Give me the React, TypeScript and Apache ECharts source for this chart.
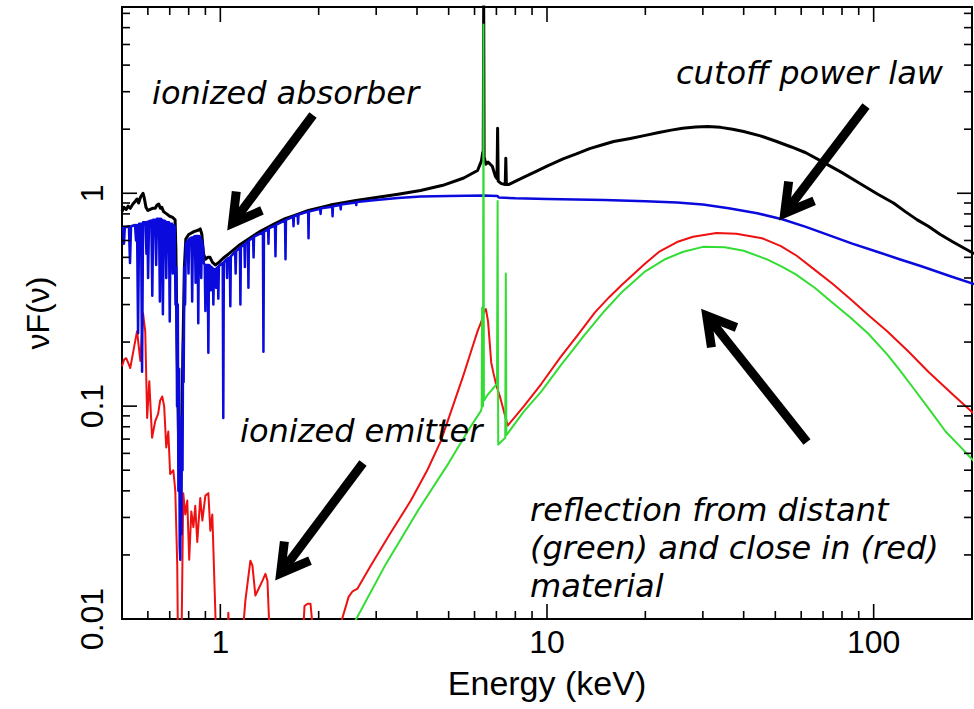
import React, { useEffect, useRef } from "react";
import * as echarts from "echarts";

// ---- axis ranges and ticks ----
const X_MIN = 0.5;
const X_MAX = 200;
const Y_MIN = 0.01;
const Y_MAX = 7.5;

const xTickValues = [1, 10, 100];
const xTickLabels = ["1", "10", "100"];
const xMinorTicks = [0.6, 0.7, 0.8, 0.9, 2, 3, 4, 5, 6, 7, 8, 9, 20, 30, 40, 50, 60, 70, 80, 90];
const yTickValues = [0.01, 0.1, 1];
const yTickLabels = ["0.01", "0.1", "1"];
const yMinorTicks = [
  0.02, 0.03, 0.04, 0.05, 0.06, 0.07, 0.08, 0.09,
  0.2, 0.3, 0.4, 0.5, 0.6, 0.7, 0.8, 0.9,
  2, 3, 4, 5, 6, 7,
];

// ---- spectral components: [energy keV, nuF(nu)] ----
const totalModel: [number, number][] = [
  [0.5, 0.82], [0.507, 0.86], [0.515, 0.84], [0.522, 0.87], [0.53, 0.85], [0.54, 0.89],
  [0.55, 0.92], [0.556, 0.94], [0.562, 0.9], [0.57, 0.96], [0.58, 1.0], [0.585, 0.95],
  [0.592, 0.86], [0.6, 0.83], [0.61, 0.84], [0.62, 0.85], [0.632, 0.85], [0.64, 0.88],
  [0.648, 0.89], [0.655, 0.85], [0.662, 0.86], [0.67, 0.82], [0.685, 0.8], [0.7, 0.78],
  [0.715, 0.77], [0.727, 0.75], [0.731, 0.55], [0.737, 0.2], [0.745, 0.07], [0.752, 0.05],
  [0.76, 0.06], [0.768, 0.18], [0.776, 0.45], [0.784, 0.61], [0.8, 0.64], [0.83, 0.66],
  [0.855, 0.67], [0.868, 0.68], [0.878, 0.64], [0.888, 0.52], [0.9, 0.49], [0.915, 0.5],
  [0.93, 0.5], [0.945, 0.475], [0.965, 0.46], [0.985, 0.47], [1.02, 0.495], [1.07, 0.525],
  [1.15, 0.575], [1.22, 0.61], [1.33, 0.665], [1.47, 0.72], [1.58, 0.76], [1.68, 0.785],
  [1.86, 0.83], [2.17, 0.88], [2.6, 0.925], [3.0, 0.955], [3.5, 0.99], [4.1, 1.03],
  [4.8, 1.09], [5.56, 1.18], [6.13, 1.28], [6.3, 1.42], [6.36, 1.56], [6.38, 1.5],
  [6.4, 7.8], [6.42, 1.48], [6.5, 1.37], [6.6, 1.4], [6.8, 1.34], [6.95, 1.2],
  [7.03, 1.17], [7.06, 2.02], [7.09, 1.14], [7.25, 1.11], [7.45, 1.1], [7.48, 1.46],
  [7.51, 1.1], [7.65, 1.1], [8.5, 1.19], [9.3, 1.27], [10, 1.34], [11.2, 1.45],
  [12.3, 1.53], [13.5, 1.62], [14.8, 1.69], [16, 1.75], [18, 1.81], [20, 1.87], [22, 1.93],
  [24, 1.98], [26, 2.02], [28.5, 2.05], [31, 2.06], [34, 2.04], [37, 2.0], [40, 1.95],
  [45, 1.86], [50, 1.76], [56, 1.65], [62, 1.55], [70, 1.4], [80, 1.25], [90, 1.12],
  [103, 0.99], [115, 0.9], [125, 0.82], [136, 0.75], [147, 0.7], [160, 0.64],
  [175, 0.59], [190, 0.55], [203, 0.52],
];

const absorbedPowerLaw: [number, number][] = [
  [0.5, 0.68], [0.504, 0.685], [0.507, 0.58], [0.51, 0.69],
  [0.525, 0.7], [0.529, 0.47], [0.533, 0.7],
  [0.548, 0.71], [0.552, 0.6], [0.556, 0.71], [0.56, 0.22], [0.564, 0.72],
  [0.572, 0.72], [0.576, 0.145], [0.58, 0.73],
  [0.59, 0.73], [0.594, 0.52], [0.598, 0.735], [0.601, 0.4], [0.605, 0.74],
  [0.615, 0.745], [0.619, 0.33], [0.623, 0.75],
  [0.632, 0.75], [0.636, 0.46], [0.64, 0.76],
  [0.649, 0.76], [0.653, 0.31], [0.657, 0.76],
  [0.663, 0.75], [0.667, 0.27], [0.671, 0.745],
  [0.679, 0.74], [0.683, 0.4], [0.687, 0.73],
  [0.696, 0.73], [0.7, 0.25], [0.704, 0.72],
  [0.711, 0.72], [0.715, 0.42], [0.719, 0.71],
  [0.725, 0.7], [0.729, 0.3], [0.733, 0.45], [0.737, 0.1], [0.741, 0.3], [0.744, 0.04],
  [0.748, 0.15], [0.751, 0.022], [0.754, 0.019], [0.757, 0.06], [0.76, 0.025],
  [0.763, 0.09], [0.766, 0.05], [0.769, 0.2], [0.772, 0.13], [0.776, 0.45], [0.78, 0.3],
  [0.784, 0.58],
  [0.795, 0.6], [0.799, 0.42], [0.803, 0.61],
  [0.816, 0.62], [0.82, 0.31], [0.824, 0.62],
  [0.836, 0.63], [0.84, 0.38], [0.844, 0.63],
  [0.852, 0.63], [0.856, 0.245], [0.86, 0.63],
  [0.87, 0.62], [0.874, 0.4], [0.878, 0.6],
  [0.886, 0.55], [0.89, 0.47], [0.896, 0.46], [0.9, 0.28], [0.904, 0.46],
  [0.915, 0.46], [0.919, 0.178], [0.923, 0.46],
  [0.931, 0.455], [0.935, 0.35], [0.939, 0.45],
  [0.948, 0.445], [0.952, 0.3], [0.956, 0.44],
  [0.966, 0.44], [0.97, 0.36], [0.974, 0.445],
  [0.982, 0.45], [0.986, 0.32], [0.99, 0.455],
  [1.017, 0.47], [1.021, 0.088], [1.025, 0.475],
  [1.045, 0.49], [1.049, 0.4], [1.053, 0.495],
  [1.069, 0.5], [1.073, 0.295], [1.077, 0.505],
  [1.11, 0.53], [1.114, 0.42], [1.118, 0.535],
  [1.148, 0.555], [1.152, 0.3], [1.156, 0.56],
  [1.185, 0.575], [1.189, 0.45], [1.193, 0.58],
  [1.215, 0.595], [1.219, 0.36], [1.223, 0.6],
  [1.26, 0.62], [1.264, 0.5], [1.268, 0.625],
  [1.35, 0.655], [1.355, 0.18], [1.36, 0.66],
  [1.4, 0.68], [1.404, 0.58], [1.408, 0.685],
  [1.47, 0.705], [1.475, 0.506], [1.48, 0.71],
  [1.578, 0.745], [1.583, 0.49], [1.588, 0.75],
  [1.67, 0.775], [1.675, 0.7], [1.68, 0.78],
  [1.725, 0.79], [1.73, 0.72], [1.735, 0.795],
  [1.857, 0.82], [1.862, 0.615], [1.867, 0.82],
  [2.02, 0.845], [2.027, 0.8], [2.034, 0.85],
  [2.2, 0.865], [2.206, 0.78], [2.212, 0.87],
  [2.33, 0.88], [2.336, 0.84], [2.342, 0.885],
  [2.6, 0.905], [2.607, 0.88], [2.614, 0.91],
  [3.0, 0.93], [3.5, 0.95], [4.1, 0.965], [5.0, 0.972], [6.4, 0.975], [7.05, 0.972],
  [7.12, 0.955], [8.0, 0.947], [10, 0.94], [15, 0.93], [20, 0.917], [25, 0.905],
  [30, 0.885], [36, 0.85], [44, 0.806], [52.5, 0.755], [62, 0.695], [72.5, 0.638],
  [86, 0.58], [103, 0.53], [120, 0.49], [140, 0.454], [170, 0.41], [203, 0.374],
];

const closeReflection: [number, number][] = [
  [0.5, 0.154], [0.508, 0.166], [0.515, 0.168], [0.522, 0.16], [0.53, 0.151], [0.545, 0.191],
  [0.556, 0.225], [0.569, 0.163], [0.58, 0.273], [0.589, 0.225], [0.597, 0.088], [0.606, 0.131],
  [0.618, 0.071], [0.632, 0.085], [0.645, 0.092], [0.654, 0.106], [0.664, 0.111], [0.673, 0.1],
  [0.683, 0.064], [0.693, 0.076], [0.702, 0.048], [0.718, 0.05], [0.728, 0.04], [0.738, 0.018],
  [0.743, 0.006], [0.759, 0.006], [0.77, 0.039], [0.781, 0.031], [0.792, 0.036], [0.803, 0.019],
  [0.815, 0.032], [0.827, 0.027], [0.838, 0.034], [0.85, 0.023], [0.868, 0.037], [0.881, 0.029],
  [0.9, 0.038], [0.919, 0.039], [0.932, 0.026], [0.945, 0.031], [0.965, 0.011], [0.975, 0.006],
  [1.045, 0.006], [1.058, 0.0107], [1.072, 0.006],
  [1.15, 0.006], [1.193, 0.0122], [1.219, 0.0159], [1.236, 0.0188], [1.254, 0.0178],
  [1.28, 0.0129], [1.299, 0.0135], [1.345, 0.0151], [1.374, 0.0163], [1.394, 0.0151],
  [1.413, 0.009], [1.43, 0.006],
  [1.77, 0.006], [1.81, 0.0115], [1.85, 0.0118], [1.888, 0.0118], [1.915, 0.0093], [1.93, 0.006],
  [2.26, 0.008], [2.47, 0.0127], [2.54, 0.0135], [2.63, 0.0139], [2.88, 0.0177], [3.3, 0.025],
  [3.83, 0.036], [4.3, 0.05], [4.73, 0.0685], [5.15, 0.1], [5.56, 0.141], [5.85, 0.18],
  [6.13, 0.225], [6.3, 0.25], [6.4, 0.275], [6.5, 0.286], [6.6, 0.25], [6.75, 0.16],
  [6.87, 0.141], [7.0, 0.125], [7.2, 0.109], [7.58, 0.081], [8.5, 0.1], [9.6, 0.127],
  [11, 0.17], [12.4, 0.215], [14, 0.275], [15.5, 0.325], [16.9, 0.37], [18.5, 0.42],
  [19.9, 0.465], [22, 0.53], [25, 0.59], [28, 0.625], [33, 0.65], [38, 0.645],
  [45.5, 0.615], [52, 0.565], [58, 0.51], [65, 0.445], [75, 0.375], [85, 0.318],
  [97, 0.265], [110, 0.225], [128, 0.18], [147, 0.145], [175, 0.113], [203, 0.092],
];

const distantReflection: [number, number][] = [
  [2.56, 0.0095], [3.21, 0.0181], [4.05, 0.0328], [5.0, 0.054], [5.8, 0.079], [6.27, 0.0947],
  [6.31, 0.098], [6.33, 0.29], [6.35, 0.16], [6.37, 0.1], [6.39, 6.2], [6.41, 0.106],
  [6.55, 0.112], [6.8, 0.12], [7.03, 0.127], [7.06, 0.92], [7.09, 0.066], [7.3, 0.069],
  [7.45, 0.071], [7.48, 0.42], [7.51, 0.073], [8.5, 0.0945], [9.6, 0.117], [11, 0.155],
  [13, 0.215], [15, 0.28], [17, 0.345], [20, 0.43], [23, 0.49], [26, 0.53], [30, 0.56],
  [35, 0.558], [40, 0.537], [47, 0.49], [52, 0.455], [57.6, 0.417], [66, 0.36], [75, 0.305],
  [85, 0.26], [96, 0.22], [110, 0.175], [120, 0.148], [131, 0.124], [150, 0.094],
  [166, 0.076], [185, 0.064], [203, 0.055],
];

// ---- annotation layout (pixels) ----
const NOTE_FONT = "'DejaVu Sans', Verdana, sans-serif";
const AXIS_FONT = "'Liberation Sans', Arial, Helvetica, sans-serif";

const notes = [
  { text: "ionized absorber", x: 152, y: 93 },
  { text: "cutoff power law", x: 676, y: 73 },
  { text: "ionized emitter", x: 240, y: 431 },
  { text: "reflection from distant", x: 530, y: 510 },
  { text: "(green) and close in (red)", x: 530, y: 548 },
  { text: "material", x: 530, y: 586 },
];

const arrows = [
  { tail: [313, 115], tip: [229, 228] },
  { tail: [866, 106], tip: [781, 218] },
  { tail: [363, 463], tip: [277, 578] },
  { tail: [807, 442], tip: [703, 311] },
];

function arrowElements(tail: number[], tip: number[]) {
  const dx = tail[0] - tip[0];
  const dy = tail[1] - tip[1];
  const len = Math.hypot(dx, dy);
  const ux = dx / len;
  const uy = dy / len;
  const head = 32;
  const ang = (30 * Math.PI) / 180;
  const rot = (a: number) => [ux * Math.cos(a) - uy * Math.sin(a), ux * Math.sin(a) + uy * Math.cos(a)];
  const r1 = rot(ang);
  const r2 = rot(-ang);
  const v = [tip[0] + ux * 6, tip[1] + uy * 6];
  return [
    {
      type: "line",
      shape: { x1: tail[0], y1: tail[1], x2: v[0], y2: v[1] },
      style: { stroke: "#000", lineWidth: 9, lineCap: "butt" },
      z: 100,
    },
    {
      type: "polyline",
      shape: {
        points: [
          [v[0] + r1[0] * head, v[1] + r1[1] * head],
          [v[0], v[1]],
          [v[0] + r2[0] * head, v[1] + r2[1] * head],
        ],
      },
      style: { stroke: "#000", fill: "none", lineWidth: 9, lineJoin: "miter", lineCap: "butt" },
      z: 100,
    },
  ];
}

function labelFor(values: number[], labels: string[]) {
  return (v: number) => {
    for (let i = 0; i < values.length; i++) {
      if (Math.abs(v / values[i] - 1) < 1e-6) return labels[i];
    }
    return "";
  };
}

function xTickSeries(ticks: number[], len: number) {
  return {
    type: "custom",
    z: 20,
    silent: true,
    clip: false,
    data: ticks.map((e) => [e, 1]),
    encode: { x: 0, y: 1 },
    renderItem: (_p: any, api: any) => {
      const e = api.value(0);
      const b = api.coord([e, Y_MIN]);
      const t = api.coord([e, Y_MAX]);
      return {
        type: "group",
        children: [
          { type: "line", shape: { x1: b[0], y1: b[1], x2: b[0], y2: b[1] - len }, style: { stroke: "#000", lineWidth: 1.6 } },
          { type: "line", shape: { x1: t[0], y1: t[1], x2: t[0], y2: t[1] + len }, style: { stroke: "#000", lineWidth: 1.6 } },
        ],
      };
    },
  };
}

function yTickSeries(ticks: number[], len: number) {
  return {
    type: "custom",
    z: 20,
    silent: true,
    clip: false,
    data: ticks.map((v) => [1, v]),
    encode: { x: 0, y: 1 },
    renderItem: (_p: any, api: any) => {
      const v = api.value(1);
      const l = api.coord([X_MIN, v]);
      const r = api.coord([X_MAX, v]);
      return {
        type: "group",
        children: [
          { type: "line", shape: { x1: l[0], y1: l[1], x2: l[0] + len, y2: l[1] }, style: { stroke: "#000", lineWidth: 1.6 } },
          { type: "line", shape: { x1: r[0], y1: r[1], x2: r[0] - len, y2: r[1] }, style: { stroke: "#000", lineWidth: 1.6 } },
        ],
      };
    },
  };
}

function lineSeries(name: string, data: [number, number][], color: string, width: number) {
  return {
    name,
    type: "line",
    data,
    showSymbol: false,
    symbol: "none",
    clip: true,
    silent: true,
    lineStyle: { color, width, join: "round" },
  };
}

export default function App() {
  const ref = useRef<HTMLDivElement>(null);

  useEffect(() => {
    if (!ref.current) return;
    const chart = echarts.init(ref.current, undefined, { renderer: "svg" });

    const graphicElements: any[] = [];
    arrows.forEach((a) => graphicElements.push(...arrowElements(a.tail, a.tip)));
    notes.forEach((n) =>
      graphicElements.push({
        type: "text",
        x: n.x,
        y: n.y,
        z: 100,
        style: {
          text: n.text,
          fill: "#000",
          font: `italic 32px ${NOTE_FONT}`,
          align: "left",
          verticalAlign: "middle",
        },
      })
    );

    chart.setOption({
      animation: false,
      backgroundColor: "#fff",
      grid: {
        left: 122,
        right: 2,
        top: 7,
        bottom: 90,
        show: true,
        borderColor: "#000",
        borderWidth: 2,
        backgroundColor: "transparent",
        containLabel: false,
        outerBoundsMode: "none",
      },
      xAxis: {
        type: "log",
        logBase: 10,
        min: X_MIN,
        max: X_MAX,
        axisLine: { show: false },
        axisTick: { show: false },
        splitLine: { show: false },
        minorTick: { show: false },
        axisLabel: {
          interval: 0,
          margin: 7,
          color: "#000",
          fontSize: 32,
          fontFamily: AXIS_FONT,
          showMinLabel: true,
          showMaxLabel: true,
          formatter: labelFor(xTickValues, xTickLabels),
        },
        name: "Energy (keV)",
        nameLocation: "middle",
        nameGap: 47,
        nameTextStyle: { color: "#000", fontSize: 34, fontFamily: AXIS_FONT },
      },
      yAxis: {
        type: "log",
        logBase: 10,
        min: Y_MIN,
        max: Y_MAX,
        axisLine: { show: false },
        axisTick: { show: false },
        splitLine: { show: false },
        minorTick: { show: false },
        axisLabel: {
          interval: 0,
          rotate: 90,
          margin: 14,
          color: "#000",
          fontSize: 32,
          fontFamily: AXIS_FONT,
          showMinLabel: true,
          showMaxLabel: true,
          formatter: labelFor(yTickValues, yTickLabels),
        },
        name: "νF(ν)",
        nameLocation: "middle",
        nameGap: 68,
        nameTextStyle: { color: "#000", fontSize: 32, fontFamily: AXIS_FONT },
      },
      series: [
        lineSeries("total", totalModel, "#000000", 3),
        lineSeries("close reflection", closeReflection, "#ee1111", 2),
        lineSeries("cutoff power law", absorbedPowerLaw, "#0a0adc", 2.5),
        lineSeries("distant reflection", distantReflection, "#33dd33", 2),
        xTickSeries(xTickValues, 15),
        xTickSeries(xMinorTicks, 8),
        yTickSeries(yTickValues.filter((v) => v > Y_MIN), 15),
        yTickSeries(yMinorTicks, 8),
      ],
      graphic: { elements: graphicElements },
    });

    return () => chart.dispose();
  }, []);

  return (
    <div
      ref={ref}
      style={{ position: "absolute", left: 0, top: 0, width: 974, height: 709, background: "#fff" }}
    />
  );
}
